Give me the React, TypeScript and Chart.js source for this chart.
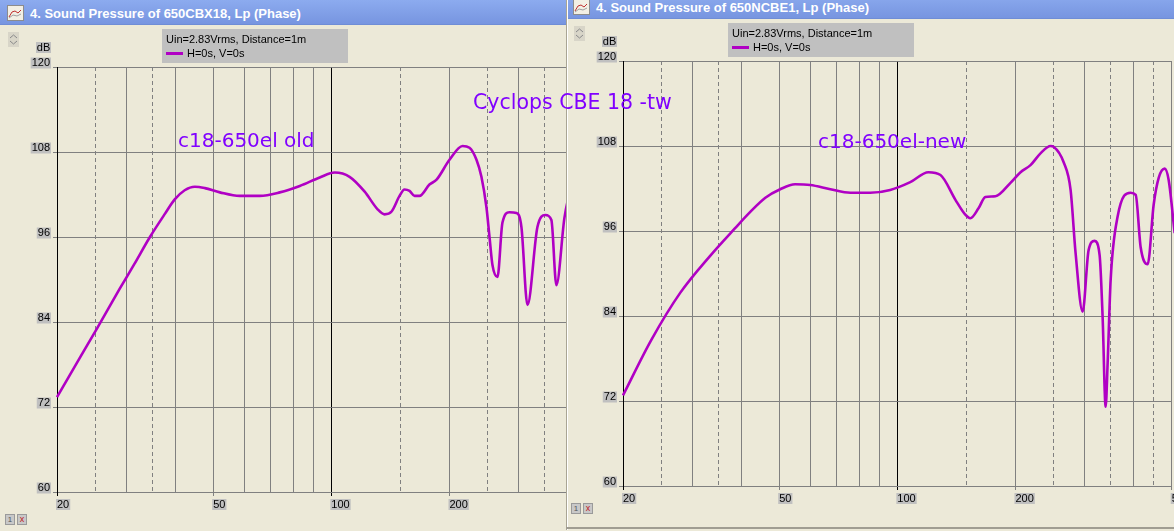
import React, { useEffect, useRef } from 'react';
import { Chart, registerables } from 'chart.js';

Chart.register(...registerables);

// ---------- data ----------
const leftFreq = [20, 22.9, 25.3, 28.9, 31.5, 34.5, 37.7, 39.9, 42.3, 44.9, 47.6, 52, 58.4, 65.7, 73.9, 83.1, 93.4, 102, 111.3, 121.6, 131.2, 136.7, 142.4, 149.2, 153.6, 158.2, 162.9, 167.7, 177.8, 185.4, 200, 215.9, 224.9, 234.3, 241.2, 248.4, 252.9, 257.4, 265, 272.8, 284.2, 296.2, 305, 316, 335, 351, 363.6, 374.4, 392.5, 405];
const leftDb = [73.4, 79.0, 83.1, 88.7, 92.2, 96.0, 99.3, 101.3, 102.6, 103.1, 102.9, 102.3, 101.8, 101.8, 102.3, 103.2, 104.4, 105.1, 104.5, 102.4, 99.9, 99.2, 99.6, 101.8, 102.7, 102.5, 101.8, 101.8, 103.4, 104.1, 106.9, 108.85, 108.6, 106.9, 104.5, 100.2, 96.0, 92.0, 90.35, 98.0, 99.5, 99.4, 97.4, 86.4, 97.4, 99.1, 98.4, 89.2, 98.7, 102.5];

const rightFreq = [20, 23.6, 28.0, 33.35, 38.6, 42.2, 46.1, 50.3, 54.9, 60.0, 67.5, 75.9, 85.3, 95.9, 107.9, 120, 128.8, 140.6, 149, 153.5, 161, 167.6, 177.8, 194.2, 206, 218.4, 231.9, 245.8, 250, 265.3, 276.3, 284.5, 296.5, 307.1, 318.2, 327.6, 333.4, 339.4, 343.4, 349.5, 364, 393, 404.8, 416.8, 434.3, 449.8, 463.3, 479.8, 491.2, 508.8];
const rightDb = [72.8, 80.6, 87.3, 92.5, 96.4, 98.7, 100.7, 101.9, 102.6, 102.5, 101.9, 101.4, 101.4, 101.8, 102.9, 104.3, 103.9, 100.4, 98.3, 97.8, 99.2, 100.8, 100.9, 102.8, 104.3, 105.3, 107.0, 108.0, 107.9, 105.7, 101.8, 92.9, 84.6, 93.3, 94.6, 92.6, 83.9, 71.2, 77.4, 89.1, 98.0, 101.4, 101.1, 93.7, 91.3, 99.7, 103.5, 104.8, 103.2, 95.7];

const gridFreqs = [20, 25, 30, 35, 40, 50, 60, 70, 80, 90, 100, 150, 200, 250, 300, 350, 400, 450, 500];
const labelFreqs = [20, 50, 100, 200, 500];
const dashedFreqs = [25, 35, 150, 250, 350, 450];
const blackFreqs = [20, 100];
const yTicks = [60, 72, 84, 96, 108, 120];

const leftTitle = '4. Sound Pressure of 650CBX18, Lp (Phase)';
const rightTitle = '4. Sound Pressure of 650NCBE1, Lp (Phase)';
const infoText = 'Uin=2.83Vrms, Distance=1m';
const legendText = 'H=0s, V=0s';

// ---------- styling ----------
const BG = '#ECE9D8';
const CURVE = '#b000c4';
const GRID = '#808080';
const LABEL_BG = '#c0c0c0';
const NOTE = '#8000ff';
const CW = 620;
const CH = 531;
const LEFT = 57;
const TOP = 67;
const PLOT_H = 425;
const XH = 26;
const RIGHT = LEFT + 392.5 * Math.log10(500 / 20);
const tickFont = { family: 'Liberation Sans, Arial, sans-serif', size: 11, lineHeight: 1 };

function makeConfig(freq: number[], db: number[]): any {
  return {
    type: 'line',
    data: {
      datasets: [
        {
          data: freq.map((f, i) => ({ x: f, y: db[i] })),
          borderColor: CURVE,
          borderWidth: 2.6,
          pointRadius: 0,
          fill: false,
          cubicInterpolationMode: 'monotone',
          clip: false,
        },
      ],
    },
    options: {
      animation: false,
      responsive: false,
      maintainAspectRatio: false,
      devicePixelRatio: 1,
      events: [],
      layout: {
        padding: { left: 0, top: TOP, right: CW - RIGHT, bottom: CH - TOP - PLOT_H - XH },
      },
      plugins: { legend: { display: false }, tooltip: { enabled: false }, title: { display: false } },
      scales: {
        x: {
          type: 'logarithmic',
          min: 20,
          max: 500,
          afterBuildTicks: (s: any) => {
            s.ticks = gridFreqs.map((v) => ({ value: v }));
          },
          afterFit: (s: any) => {
            s.height = XH;
            s.paddingLeft = 0;
            s.paddingRight = 0;
          },
          ticks: {
            autoSkip: false,
            maxRotation: 0,
            minRotation: 0,
            align: 'start',
            padding: 3,
            color: '#000',
            font: tickFont,
            showLabelBackdrop: (c: any) => !!c.tick && labelFreqs.includes(c.tick.value),
            backdropColor: LABEL_BG,
            backdropPadding: { top: 0, bottom: 0, left: 1, right: 1 },
            callback: (v: any) => (labelFreqs.includes(Number(v)) ? String(v) : ''),
          },
          grid: {
            lineWidth: 1,
            color: (c: any) => (c.tick && blackFreqs.includes(c.tick.value) ? '#000' : GRID),
            tickLength: 4,
            tickColor: (c: any) =>
              c.tick && labelFreqs.includes(c.tick.value)
                ? blackFreqs.includes(c.tick.value)
                  ? '#000'
                  : GRID
                : 'rgba(0,0,0,0)',
          },
          border: {
            display: true,
            color: GRID,
            width: 1,
            dash: (c: any) => (c.tick && dashedFreqs.includes(c.tick.value) ? [4, 3] : []),
          },
        },
        y: {
          type: 'linear',
          min: 60,
          max: 120,
          afterBuildTicks: (s: any) => {
            s.ticks = yTicks.map((v) => ({ value: v }));
          },
          afterFit: (s: any) => {
            s.width = LEFT;
            s.paddingTop = 0;
            s.paddingBottom = 0;
          },
          ticks: {
            padding: 3,
            color: '#000',
            font: tickFont,
            labelOffset: -4,
            showLabelBackdrop: true,
            backdropColor: LABEL_BG,
            backdropPadding: { top: 0, bottom: 0, left: 1, right: 1 },
            callback: (v: any) => String(v),
          },
          grid: { color: GRID, lineWidth: 1, tickLength: 4, tickColor: GRID },
          border: { display: true, color: '#000', width: 1 },
        },
      },
    },
  };
}

type WinProps = {
  left: number;
  top: number;
  width: number;
  height: number;
  title: string;
  freq: number[];
  db: number[];
  iconsY: number;
  bottomLine: boolean;
  leftEdge: boolean;
};

function Chevrons() {
  return (
    <svg width="11" height="15" style={{ position: 'absolute', left: 8, top: 32 }}>
      <rect x="0" y="0" width="11" height="15" fill="#d8d5c8" />
      <polyline points="2,6 5.5,3 9,6" fill="none" stroke="#8a8a8a" strokeWidth="1" />
      <polyline points="2,9 5.5,12 9,9" fill="none" stroke="#8a8a8a" strokeWidth="1" />
    </svg>
  );
}

function TitleIcon() {
  return (
    <svg width="17" height="16" style={{ position: 'absolute', left: 7, top: 5 }}>
      <rect x="0.5" y="0.5" width="16" height="15" fill="#f2efe4" stroke="#8c8c8c" />
      <polyline points="2,12 5,7 8,6 11,8 14,5" fill="none" stroke="#c03030" strokeWidth="1" />
      <polyline points="2,13 6,10 10,11 14,9" fill="none" stroke="#a0a0a0" strokeWidth="1" />
    </svg>
  );
}

function FrWindow(p: WinProps) {
  const ref = useRef<HTMLCanvasElement>(null);
  useEffect(() => {
    const chart = new Chart(ref.current as HTMLCanvasElement, makeConfig(p.freq, p.db));
    return () => chart.destroy();
  }, []);
  const sans = 'Liberation Sans, Arial, sans-serif';
  return (
    <div
      style={{
        position: 'absolute',
        left: p.left,
        top: p.top,
        width: p.width,
        height: p.height,
        overflow: 'hidden',
        background: BG,
      }}
    >
      <canvas
        ref={ref}
        width={CW}
        height={CH}
        style={{ position: 'absolute', left: 0, top: 0, width: CW, height: CH }}
      />
      <div
        style={{
          position: 'absolute',
          left: 0,
          top: 0,
          width: '100%',
          height: 25,
          background: 'linear-gradient(#8cabef, #7795e0)',
          borderBottom: '1px solid #6f8dd6',
          boxSizing: 'border-box',
        }}
      />
      <TitleIcon />
      <div
        style={{
          position: 'absolute',
          left: 30,
          top: 0,
          height: 25,
          lineHeight: '27px',
          color: '#fff',
          fontFamily: sans,
          fontWeight: 'bold',
          fontSize: 13,
          whiteSpace: 'nowrap',
        }}
      >
        {p.title}
      </div>
      <Chevrons />
      <div
        style={{
          position: 'absolute',
          left: 36,
          top: 42,
          width: 15,
          height: 11,
          lineHeight: '11px',
          background: LABEL_BG,
          fontFamily: sans,
          fontSize: 11,
          textAlign: 'center',
          color: '#000',
        }}
      >
        dB
      </div>
      <div
        style={{
          position: 'absolute',
          left: 162,
          top: 29,
          width: 186,
          height: 34,
          background: LABEL_BG,
          fontFamily: sans,
          fontSize: 11,
          color: '#000',
        }}
      >
        <div style={{ position: 'absolute', left: 4, top: 4, lineHeight: '12px', whiteSpace: 'nowrap' }}>
          {infoText}
        </div>
        <div style={{ position: 'absolute', left: 4, top: 23, width: 17, height: 3, background: CURVE }} />
        <div style={{ position: 'absolute', left: 25, top: 18, lineHeight: '12px', whiteSpace: 'nowrap' }}>
          {legendText}
        </div>
      </div>
      <div
        style={{
          position: 'absolute',
          left: 5,
          top: p.iconsY,
          width: 10,
          height: 11,
          background: '#c8c8c8',
          border: '1px solid #9a9a9a',
          boxSizing: 'border-box',
          fontSize: 8,
          lineHeight: '9px',
          textAlign: 'center',
          fontFamily: sans,
          color: '#555',
        }}
      >
        1
      </div>
      <div
        style={{
          position: 'absolute',
          left: 17,
          top: p.iconsY,
          width: 10,
          height: 11,
          background: '#c8c8c8',
          border: '1px solid #9a9a9a',
          boxSizing: 'border-box',
          fontSize: 9,
          lineHeight: '9px',
          textAlign: 'center',
          fontFamily: sans,
          color: '#c02020',
        }}
      >
        x
      </div>
      {p.leftEdge && (
        <>
          <div style={{ position: 'absolute', left: 0, top: 0, width: 1, height: '100%', background: '#a9a594' }} />
          <div style={{ position: 'absolute', left: 1, top: 0, width: 1, height: '100%', background: '#ffffff' }} />
        </>
      )}
      {p.bottomLine && (
        <div
          style={{ position: 'absolute', left: 0, top: p.height - 3, width: '100%', height: 2, background: '#a09d92' }}
        />
      )}
    </div>
  );
}

export default function App() {
  const note = 'DejaVu Sans, sans-serif';
  return (
    <div
      style={{
        position: 'fixed',
        left: 0,
        top: 0,
        width: 1174,
        height: 531,
        overflow: 'hidden',
        background: BG,
      }}
    >
      <FrWindow
        left={0}
        top={0}
        width={567}
        height={531}
        title={leftTitle}
        freq={leftFreq}
        db={leftDb}
        iconsY={514}
        bottomLine={false}
        leftEdge={false}
      />
      <FrWindow
        left={566}
        top={-6}
        width={620}
        height={536}
        title={rightTitle}
        freq={rightFreq}
        db={rightDb}
        iconsY={509}
        bottomLine={true}
        leftEdge={true}
      />
      <div
        style={{
          position: 'absolute',
          left: 178,
          top: 130,
          fontFamily: note,
          fontSize: 20,
          lineHeight: 1,
          color: NOTE,
          whiteSpace: 'nowrap',
        }}
      >
        c18-650el old
      </div>
      <div
        style={{
          position: 'absolute',
          left: 473,
          top: 92,
          fontFamily: note,
          fontSize: 20.5,
          lineHeight: 1,
          color: NOTE,
          whiteSpace: 'nowrap',
        }}
      >
        Cyclops CBE 18 -tw
      </div>
      <div
        style={{
          position: 'absolute',
          left: 818,
          top: 131,
          fontFamily: note,
          fontSize: 20,
          lineHeight: 1,
          color: NOTE,
          whiteSpace: 'nowrap',
        }}
      >
        c18-650el-new
      </div>
    </div>
  );
}
